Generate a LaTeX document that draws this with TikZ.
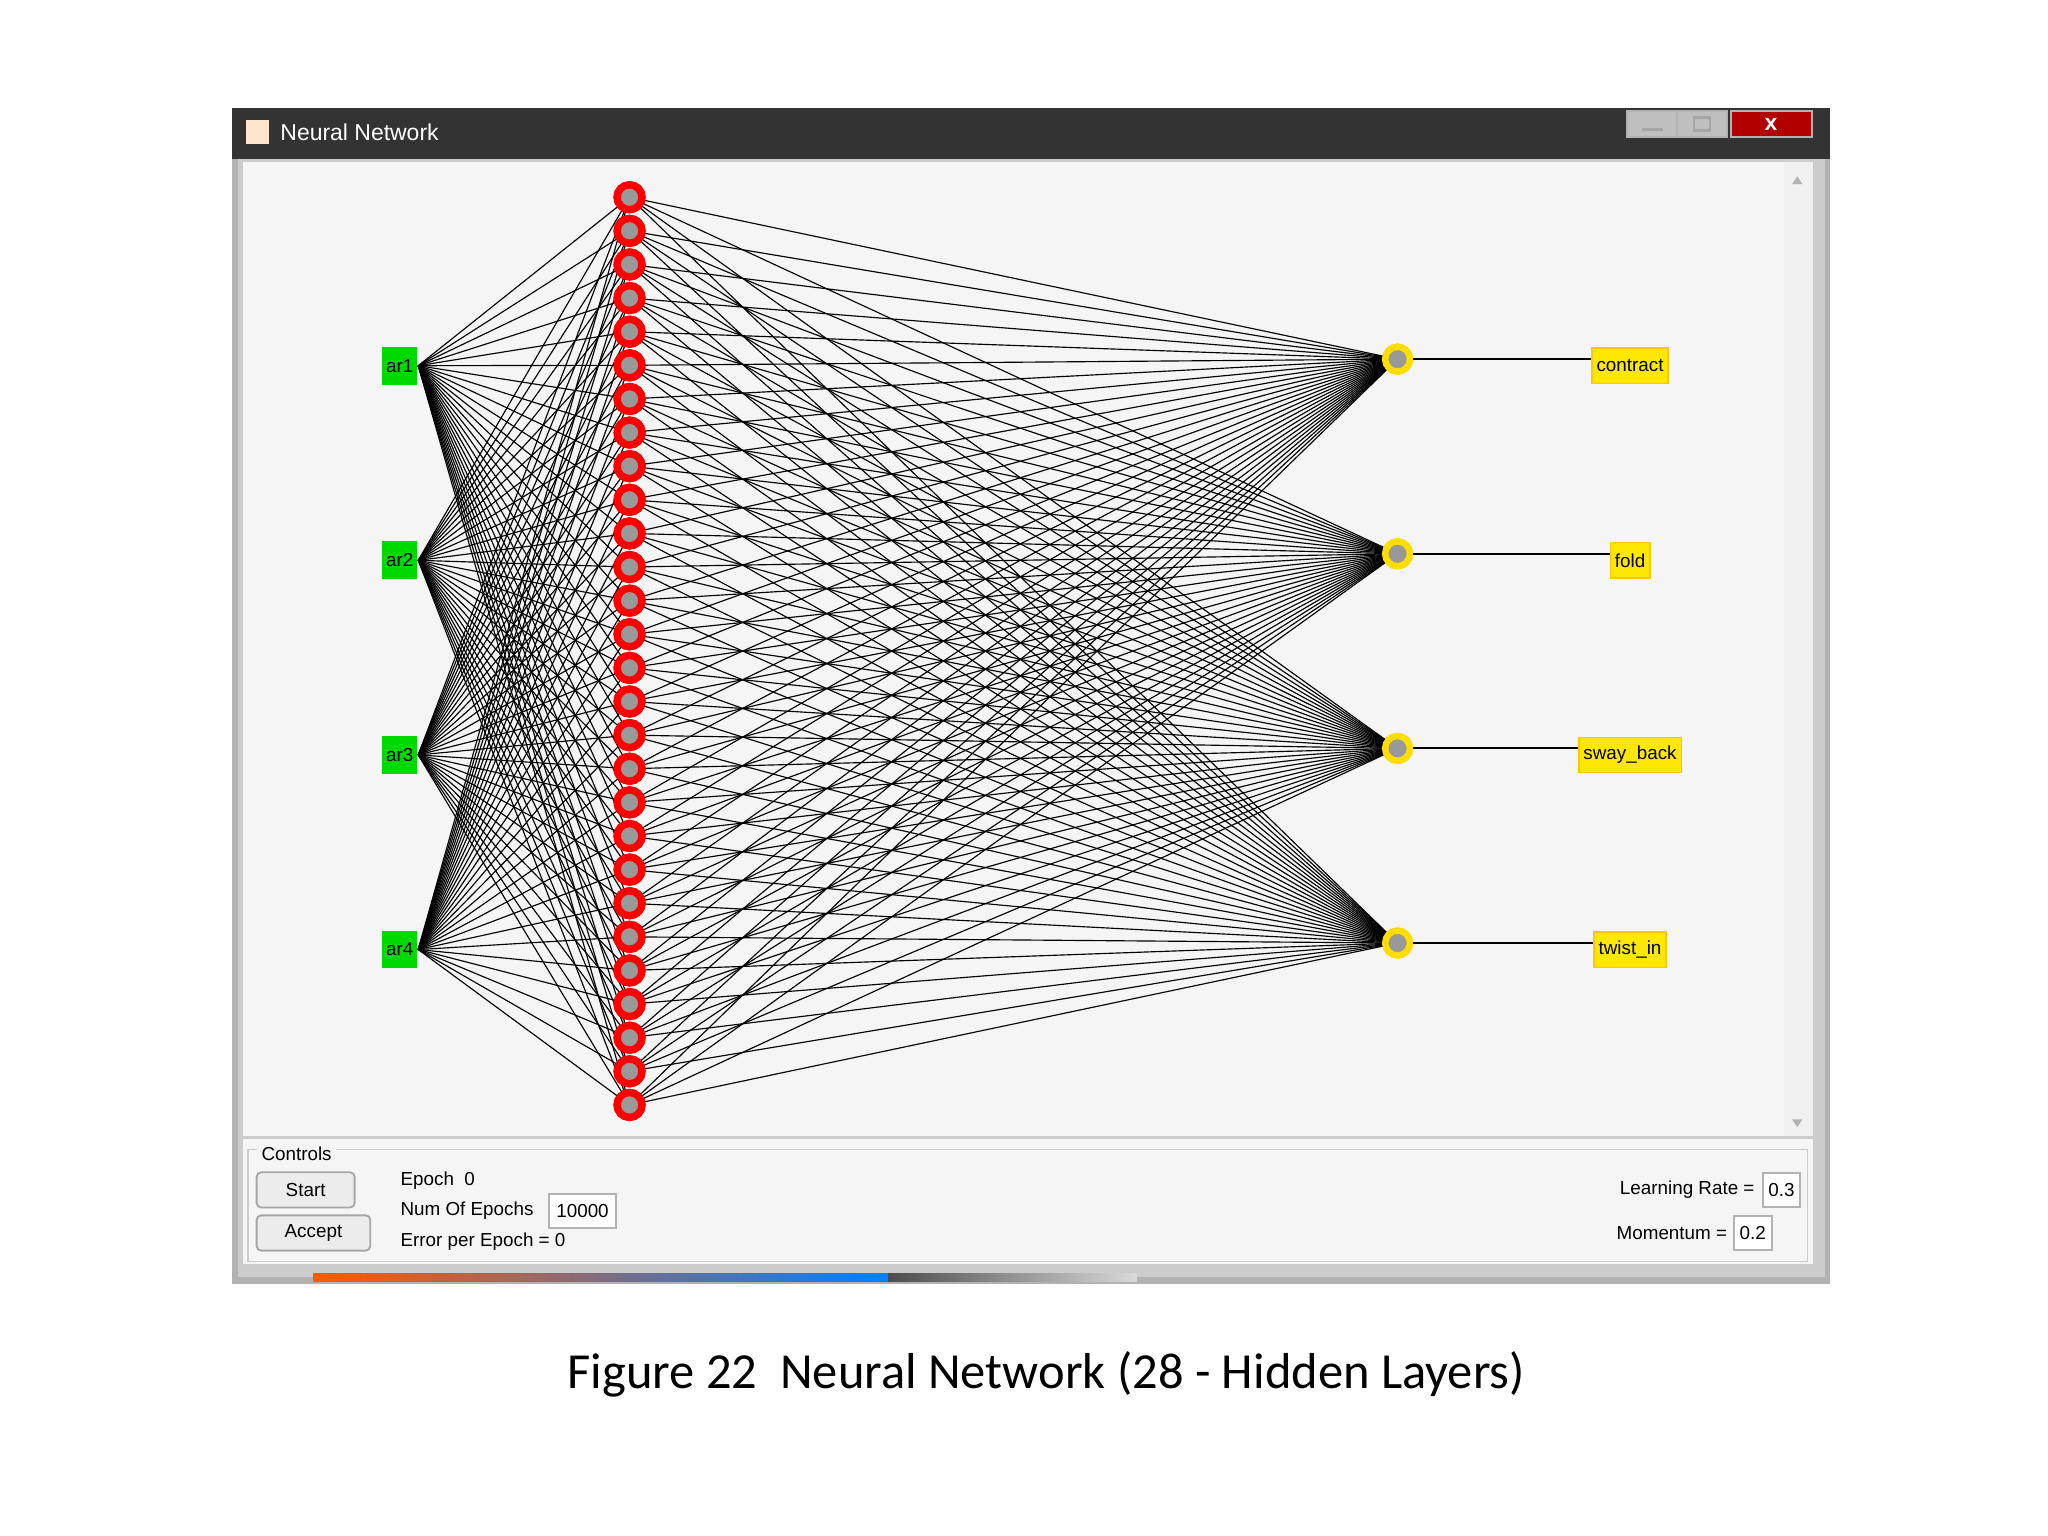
\documentclass[tikz,border=0pt]{standalone}
\usepackage{fontspec}
\setmainfont{Liberation Sans}
\newfontfamily\capfont{Carlito}
\begin{document}
\begin{tikzpicture}[x=0.01cm,y=-0.01cm,
  ui/.style={font=\fontsize{4.1pt}{5pt}\selectfont,inner sep=0pt},
  innode/.style={fill=green!85!black,minimum width=0.27cm,minimum height=0.29cm,inner sep=0pt,font=\fontsize{4.1pt}{5pt}\selectfont},
  hid/.style={circle,draw=red,line width=1.6pt,fill=gray!80,minimum size=0.19cm,inner sep=0pt},
  outn/.style={circle,draw=yellow!80!orange,line width=1.4pt,fill=gray!80,minimum size=0.19cm,inner sep=0pt},
  lab/.style={fill=yellow!90!orange,draw=yellow!60!orange,line width=0.3pt,minimum height=0.27cm,inner sep=1pt,font=\fontsize{4.1pt}{5pt}\selectfont},
  btn/.style={draw=gray!70,fill=gray!15,rounded corners=1pt,inner sep=0pt,font=\fontsize{4.1pt}{5pt}\selectfont},
  fld/.style={draw=gray!60,fill=white,inner sep=0pt,font=\fontsize{4.1pt}{5pt}\selectfont},
  edge/.style={line width=0.25pt,black}]
\useasboundingbox[fill=white] (0,0) rectangle (1568,1176);
% window
\fill[gray!60] (178,83) rectangle (1401,983);
\fill[black!80] (178,83) rectangle (1401,122);
\fill[gray!40] (182,122) rectangle (1397,978);
\fill[gray!8] (186,124) rectangle (1388,870);
\fill[gray!12] (1366,124) rectangle (1388,870);
\node[ui,text=white,anchor=west,font=\fontsize{5pt}{6pt}\selectfont] (title) at (214,101) {Neural Network};
\fill[white!80!orange] (188,92) rectangle (206,110);
\node[draw=gray!60,fill=gray!50,minimum width=0.38cm,minimum height=0.2cm,inner sep=0] (bmin) at (1265,95) {};
\node[draw=gray!60,fill=gray!50,minimum width=0.38cm,minimum height=0.2cm,inner sep=0] (bmax) at (1303,95) {};
\node[draw=gray!60,fill=red!70!black,minimum width=0.62cm,minimum height=0.2cm,inner sep=0,text=white,font=\bfseries\fontsize{5pt}{5pt}\selectfont] (bcl) at (1356,95) {x};
\draw[gray!70,line width=0.6pt] (1257,99) -- (1273,99);
\draw[gray!70,line width=0.5pt] (1297,90) rectangle (1309,100);
\fill[gray!60] (1372,141) -- (1380,141) -- (1376,135) -- cycle;
\fill[gray!60] (1372,857) -- (1380,857) -- (1376,863) -- cycle;
% nodes
\foreach \i [evaluate=\i as \yy using {151+(\i-1)*25.74}] in {1,...,28}
  \node[hid] (h\i) at (482,\yy) {};
\foreach \i/\yy in {1/280,2/429,3/578,4/727}
  \node[innode] (a\i) at (306,\yy) {ar\i};
\foreach \i/\yy in {1/275,2/424,3/573,4/722}
  \node[outn] (o\i) at (1070,\yy) {};
\foreach \i in {1,...,4}
  \foreach \j in {1,...,28}
   { \draw[edge] (a\i.east) -- (h\j.center);
     \draw[edge] (h\j.center) -- (o\i.center); }
\foreach \j in {1,...,28} \node[hid] at (h\j) {};
\foreach \i in {1,...,4} {\node[outn] at (o\i) {}; \node[innode] at (a\i) {ar\i};}
\node[lab] (l1) at (1248,280) {contract};
\node[lab] (l2) at (1248,429) {fold};
\node[lab] (l3) at (1248,578) {sway\_back};
\node[lab] (l4) at (1248,727) {twist\_in};
\foreach \i in {1,...,4} \draw[edge,line width=0.4pt] (o\i.east) -- (o\i.east -| l\i.west);
% controls
\fill[gray!8] (186,872) rectangle (1388,968);
\draw[gray!40,line width=0.3pt] (190,880) rectangle (1384,966);
\node[ui,anchor=west,fill=gray!8,inner xsep=1pt] (ctl) at (196,883) {Controls};
\node[btn,minimum width=0.75cm,minimum height=0.27cm] (start) at (234,911) {Start};
\node[btn,minimum width=0.87cm,minimum height=0.27cm] (acc) at (240,944) {Accept};
\node[ui,anchor=west] (ep) at (306,904) {Epoch\ \ 0};
\node[ui,anchor=west] (noe) at (306,927) {Num Of Epochs};
\node[fld,minimum width=0.51cm,minimum height=0.26cm] (f1) at (446,927) {10000};
\node[ui,anchor=west] (err) at (306,951) {Error per Epoch = 0};
\node[ui,anchor=east] (lr) at (1344,911) {Learning Rate =};
\node[fld,minimum width=0.28cm,minimum height=0.26cm] (f2) at (1364,911) {0.3};
\node[ui,anchor=east] (mo) at (1323,944) {Momentum =};
\node[fld,minimum width=0.29cm,minimum height=0.26cm] (f3) at (1342,944) {0.2};
\shade[left color=orange!70!red,right color=blue!50!cyan] (240,975) rectangle (680,981);
\shade[left color=gray!60!black,right color=gray!30] (680,975) rectangle (870,981);
% caption
\node[font=\capfont\fontsize{11pt}{13pt}\selectfont,inner sep=0] (cap) at (801,1052) {Figure 22\ \ Neural Network (28 - Hidden Layers)};
\end{tikzpicture}
\end{document}
